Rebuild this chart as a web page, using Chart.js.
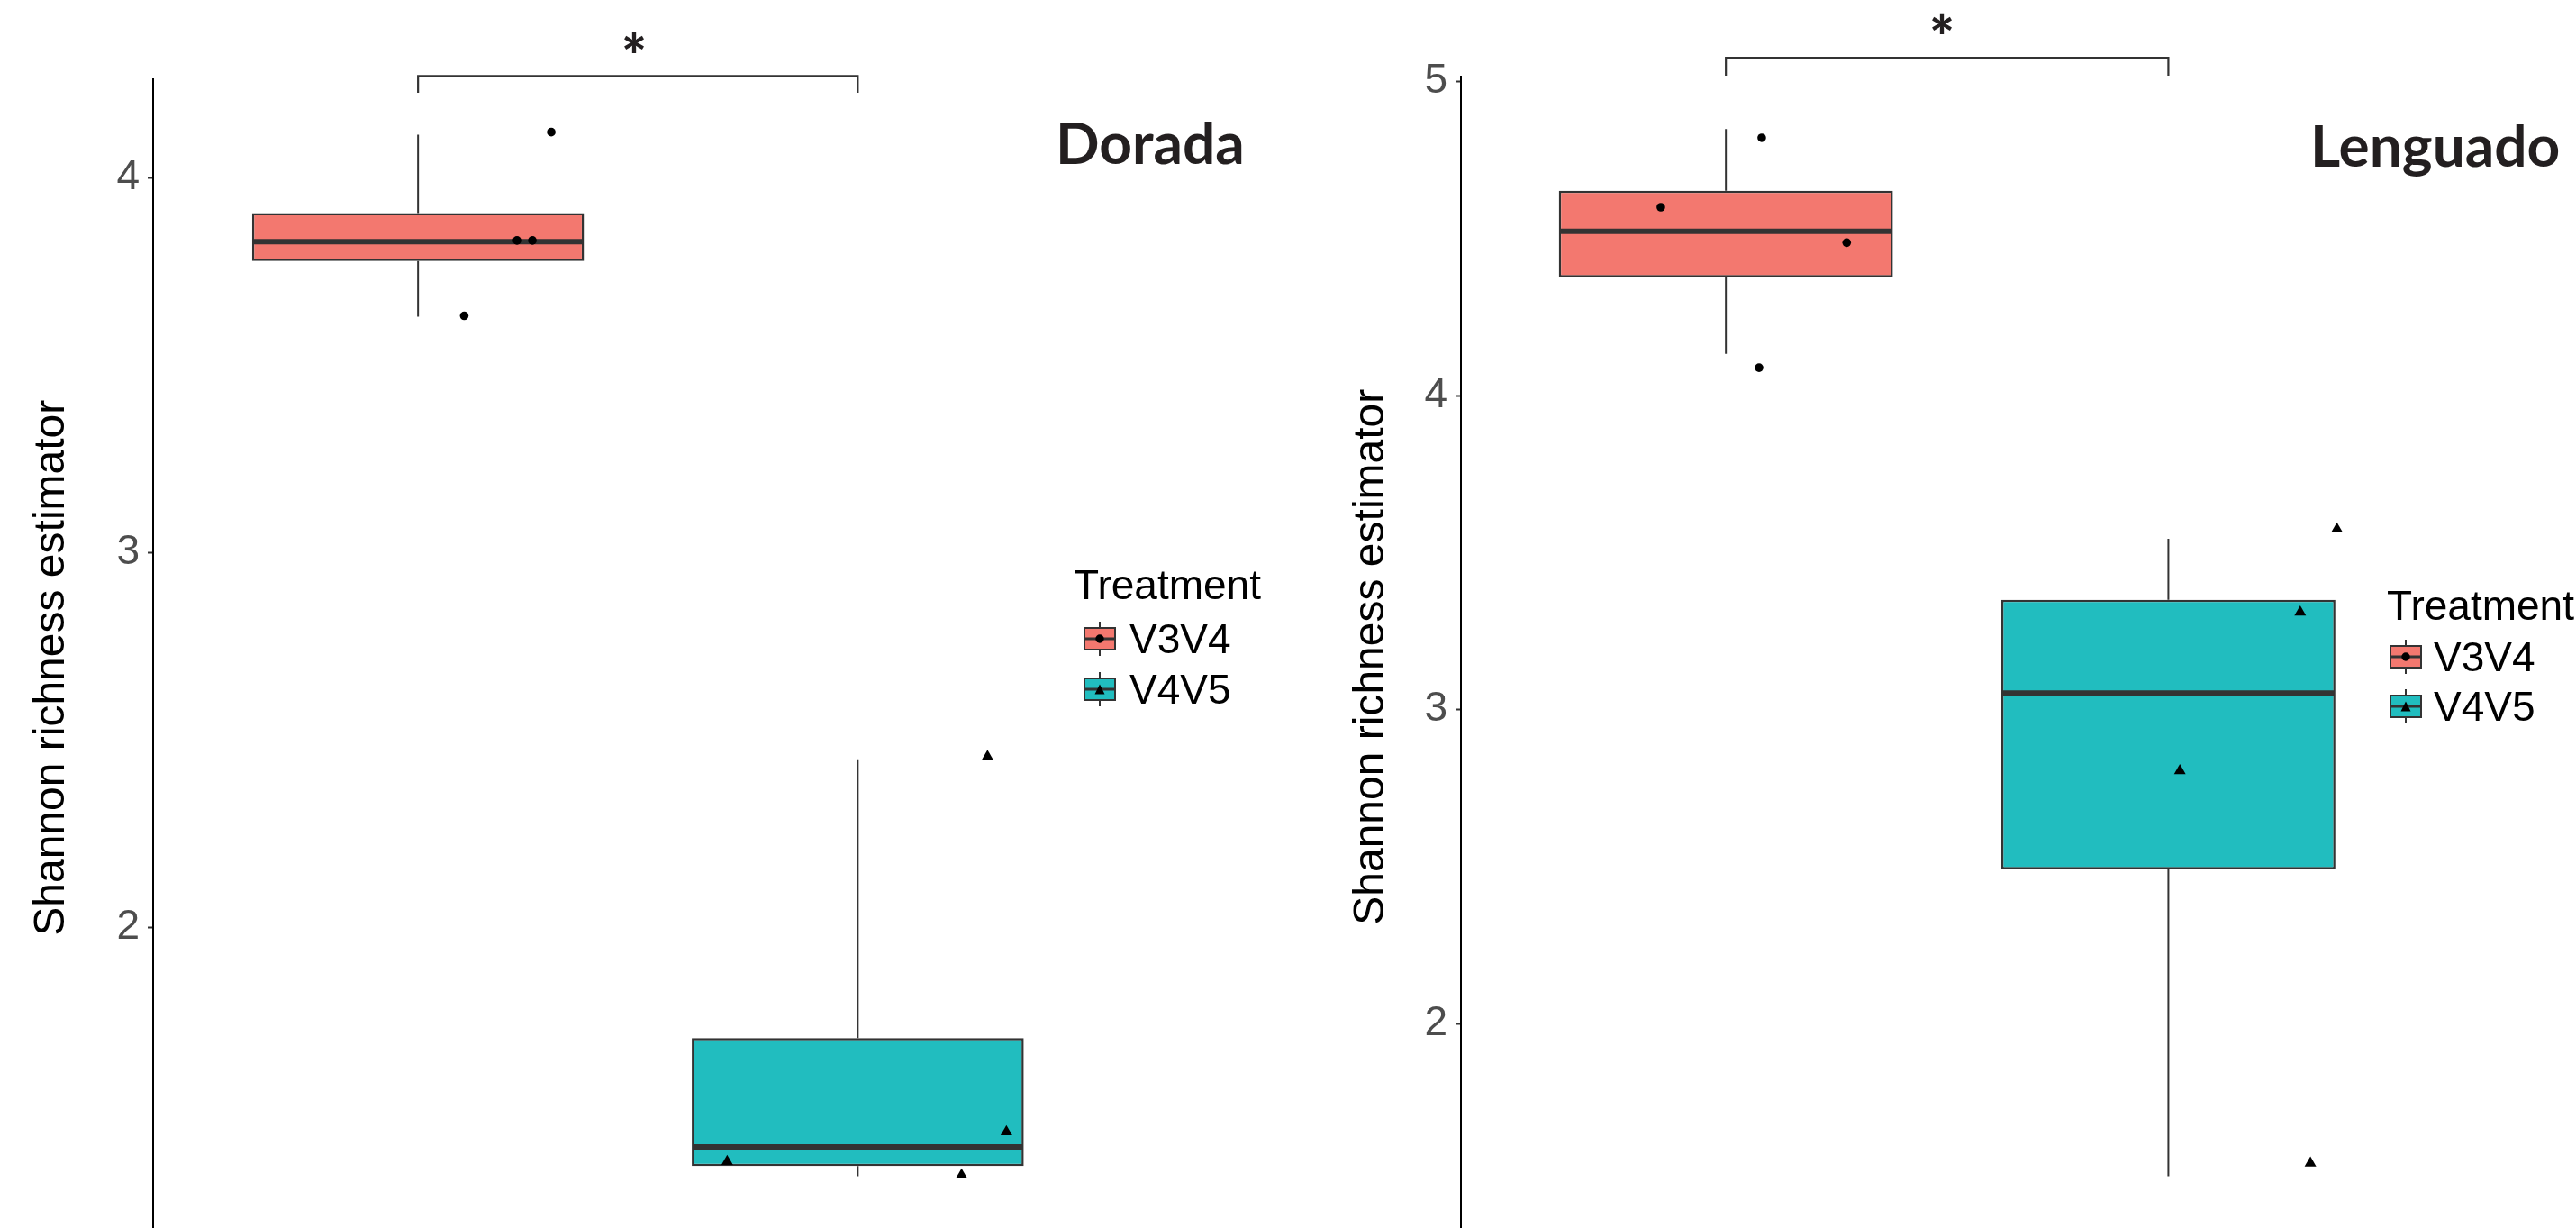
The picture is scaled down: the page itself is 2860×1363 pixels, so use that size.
<!DOCTYPE html>
<html lang="en">
<head>
  <meta charset="UTF-8">
  <title>Shannon richness estimator - Dorada / Lenguado</title>
  <script src="https://cdn.jsdelivr.net/npm/chart.js"></script>
  <style>
    html, body {
      margin: 0;
      padding: 0;
      background: #fff;
    }
    #page {
      position: relative;
      width: 2860px;
      height: 1363px;
      overflow: hidden;
      background: #fff;
    }
    canvas {
      position: absolute;
      top: 0;
    }
    .panel-title {
      position: absolute;
      font-family: Lato, sans-serif;
      font-weight: 700;
      font-size: 64px;
      line-height: 64px;
      color: #231f20;
      white-space: nowrap;
    }
    .star {
      position: absolute;
      width: 100px;
      text-align: center;
      font-family: Lato, sans-serif;
      font-weight: 900;
      font-size: 66px;
      line-height: 66px;
      color: #231f20;
    }
    .legend {
      position: absolute;
      font-family: "Liberation Sans", Arial, sans-serif;
      font-size: 46px;
      color: #000;
    }
    .legend .head {
      position: absolute;
      left: 0;
      top: 0;
      line-height: 46px;
      white-space: nowrap;
    }
    .legend .row {
      position: absolute;
      height: 56px;
      display: flex;
      align-items: center;
      white-space: nowrap;
    }
    .legend svg {
      display: block;
    }
  </style>
</head>
<body>
  <div id="page">
    <canvas id="dorada" width="1430" height="1402" style="left:0"></canvas>
    <canvas id="lenguado" width="1430" height="1381" style="left:1430px"></canvas>

    <div class="panel-title" style="left:1172px; top:126px">Dorada</div>
    <div class="panel-title" style="left:2565px; top:129px">Lenguado</div>

    <div class="star" style="left:654px; top:29px">*</div>
    <div class="star" style="left:2106px; top:8px">*</div>

    <div class="legend" id="legendDorada" style="left:1192px; top:626px"></div>
    <div class="legend" id="legendLenguado" style="left:2650px; top:649px"></div>
  </div>

  <script>
    const groups = ['V3V4', 'V4V5'];
    const groupPos = [1, 2];
    const fillColors = ['#F3786F', '#21BDBF'];

    // Dorada
    const doradaTicks = [2, 3, 4];
    const doradaRange = [1.123, 4.263];
    const doradaLower = [3.630, 1.337];
    const doradaQ1 = [3.778, 1.364];
    const doradaMedian = [3.830, 1.415];
    const doradaQ3 = [3.906, 1.705];
    const doradaUpper = [4.115, 2.449];
    const doradaV3V4X = [1.303, 1.225, 1.260, 1.105];
    const doradaV3V4Y = [4.122, 3.833, 3.833, 3.632];
    const doradaV4V5X = [2.295, 2.338, 1.703, 2.236];
    const doradaV4V5Y = [2.456, 1.455, 1.376, 1.340];
    const doradaBracket = [4.227, 4.272]; // foot, top

    // Lenguado
    const lenguadoTicks = [2, 3, 4, 5];
    const lenguadoRange = [1.319, 5.016];
    const lenguadoLower = [4.133, 1.514];
    const lenguadoQ1 = [4.377, 2.492];
    const lenguadoMedian = [4.523, 3.053];
    const lenguadoQ3 = [4.652, 3.350];
    const lenguadoUpper = [4.849, 3.544];
    const lenguadoV3V4X = [1.081, 0.853, 1.273, 1.075];
    const lenguadoV3V4Y = [4.821, 4.600, 4.487, 4.089];
    const lenguadoV4V5X = [2.381, 2.298, 2.026, 2.321];
    const lenguadoV4V5Y = [3.575, 3.310, 2.805, 1.556];
    const lenguadoBracket = [5.019, 5.076];

    const BOX_HALF = 0.375;
    const INK = '#333333';

    Chart.defaults.font.family = '"Liberation Sans", Arial, sans-serif';

    function segment(x1, y1, x2, y2, width, order) {
      return {
        type: 'line',
        data: [{x: x1, y: y1}, {x: x2, y: y2}],
        borderColor: INK,
        borderWidth: width,
        borderCapStyle: 'butt',
        pointRadius: 0,
        fill: false,
        order
      };
    }

    function makePanel(id, d, frame) {
      const datasets = [];

      // jittered samples
      datasets.push({
        type: 'scatter',
        data: d.v3v4X.map((x, i) => ({x, y: d.v3v4Y[i]})),
        pointStyle: 'circle',
        pointRadius: 4.8,
        backgroundColor: '#000',
        borderWidth: 0,
        order: 0
      });
      datasets.push({
        type: 'scatter',
        data: d.v4v5X.map((x, i) => ({x, y: d.v4v5Y[i]})),
        pointStyle: 'triangle',
        pointRadius: 7.5,
        backgroundColor: '#000',
        borderWidth: 0,
        order: 0
      });

      groupPos.forEach((p, g) => {
        datasets.push(segment(p - BOX_HALF, d.median[g], p + BOX_HALF, d.median[g], 6, 1));
        datasets.push(segment(p, d.q3[g], p, d.upper[g], 2, 3));
        datasets.push(segment(p, d.lower[g], p, d.q1[g], 2, 3));
      });

      datasets.push({
        type: 'bar',
        data: groupPos.map((p, g) => ({x: p, y: [d.q1[g], d.q3[g]]})),
        backgroundColor: fillColors,
        borderColor: INK,
        borderWidth: 2.5,
        borderSkipped: false,
        barPercentage: BOX_HALF * 2 + 0.005,
        categoryPercentage: 1,
        order: 2
      });

      // significance bracket
      datasets.push({
        type: 'line',
        data: [
          {x: groupPos[0], y: d.bracket[0]},
          {x: groupPos[0], y: d.bracket[1]},
          {x: groupPos[1], y: d.bracket[1]},
          {x: groupPos[1], y: d.bracket[0]}
        ],
        borderColor: INK,
        borderWidth: 2.2,
        pointRadius: 0,
        fill: false,
        clip: false,
        order: 0
      });

      return new Chart(document.getElementById(id), {
        type: 'scatter',
        data: {datasets},
        options: {
          responsive: false,
          animation: false,
          devicePixelRatio: 1,
          layout: {padding: {left: 0, right: 0, top: frame.top, bottom: 0}},
          plugins: {legend: {display: false}, tooltip: {enabled: false}},
          scales: {
            x: {
              type: 'linear',
              min: frame.xMin,
              max: frame.xMax,
              display: false,
              offset: false,
              afterBuildTicks: s => { s.ticks = groupPos.map(v => ({value: v})); }
            },
            y: {
              type: 'linear',
              min: d.range[0],
              max: d.range[1],
              afterBuildTicks: s => { s.ticks = d.ticks.map(v => ({value: v})); },
              afterFit: s => {
                s.width = frame.axisWidth;
                s.paddingTop = 0;
                s.paddingBottom = 0;
              },
              ticks: {
                color: '#4d4d4d',
                font: {size: 46},
                padding: 9
              },
              grid: {
                display: true,
                drawOnChartArea: false,
                drawTicks: true,
                tickLength: 6,
                tickWidth: 2,
                tickColor: INK
              },
              border: {display: true, color: '#000', width: 2},
              title: {
                display: true,
                text: 'Shannon richness estimator',
                color: '#000',
                font: {size: 48, lineHeight: 1},
                padding: {top: frame.titlePad, bottom: 0}
              }
            }
          }
        }
      });
    }

    function keySvg(g) {
      const marker = g === 0
        ? '<circle cx="18" cy="19" r="4.7" fill="#000"/>'
        : '<polygon points="18,13.5 12.5,24.5 23.5,24.5" fill="#000"/>';
      return '<svg width="36" height="38" viewBox="0 0 36 38">' +
        '<line x1="18" y1="0" x2="18" y2="38" stroke="#333" stroke-width="2"/>' +
        '<rect x="1" y="7" width="34" height="24" fill="' + fillColors[g] + '" stroke="#333" stroke-width="2"/>' +
        '<line x1="1" y1="19" x2="35" y2="19" stroke="#333" stroke-width="3"/>' +
        marker + '</svg>';
    }

    function makeLegend(id, spot) {
      const el = document.getElementById(id);
      let html = '<div class="head">Treatment</div>';
      groups.forEach((name, g) => {
        html += '<div class="row" style="left:' + spot.keyLeft + 'px; top:' + (spot.rowTop + g * 55.5) + 'px">' +
          keySvg(g) + '<span style="margin-left:' + spot.gap + 'px">' + name + '</span></div>';
      });
      el.innerHTML = html;
    }

    makePanel('dorada', {
      ticks: doradaTicks, range: doradaRange,
      lower: doradaLower, q1: doradaQ1, median: doradaMedian, q3: doradaQ3, upper: doradaUpper,
      v3v4X: doradaV3V4X, v3v4Y: doradaV3V4Y, v4v5X: doradaV4V5X, v4v5Y: doradaV4V5Y,
      bracket: doradaBracket
    }, {top: 88, axisWidth: 170, titlePad: 33.4, xMin: 0.3975, xMax: 2.963});

    makePanel('lenguado', {
      ticks: lenguadoTicks, range: lenguadoRange,
      lower: lenguadoLower, q1: lenguadoQ1, median: lenguadoMedian, q3: lenguadoQ3, upper: lenguadoUpper,
      v3v4X: lenguadoV3V4X, v3v4Y: lenguadoV3V4Y, v4v5X: lenguadoV4V5X, v4v5Y: lenguadoV4V5Y,
      bracket: lenguadoBracket
    }, {top: 85, axisWidth: 192, titlePad: 68.4, xMin: 0.4012, xMax: 2.906});

    makeLegend('legendDorada', {keyLeft: 11, rowTop: 55, gap: 15});
    makeLegend('legendLenguado', {keyLeft: 3, rowTop: 51.5, gap: 13});
  </script>
</body>
</html>
